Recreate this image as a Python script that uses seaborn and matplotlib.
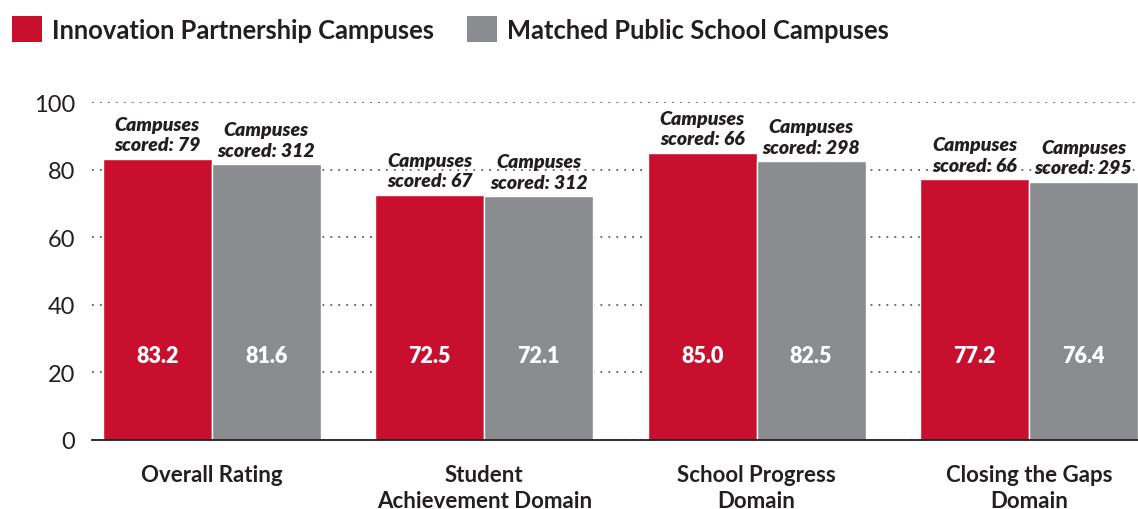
""" Campus ratings: Innovation Partnership vs matched public schools """

import matplotlib.pyplot as plt
import pandas as pd
import seaborn as sns
from matplotlib.patches import Patch


# Data
domains = ["Overall Rating", "Student\nAchievement Domain",
           "School Progress\nDomain", "Closing the Gaps\nDomain"]
groups = ["Innovation Partnership Campuses", "Matched Public School Campuses"]
innovation_scores = [83.2, 72.5, 85.0, 77.2]
matched_scores = [81.6, 72.1, 82.5, 76.4]
innovation_counts = [79, 67, 66, 66]
matched_counts = [312, 312, 298, 295]

colors = ["#C8102E", "#8A8C8F"]
text_color = "#231F20"

df = pd.DataFrame({
    "domain": domains * 2,
    "group": [groups[0]] * 4 + [groups[1]] * 4,
    "score": innovation_scores + matched_scores,
    "count": innovation_counts + matched_counts,
})

sns.set_style("white")
plt.rcParams["font.family"] = ["Lato", "DejaVu Sans"]

fig = plt.figure(figsize=(11.38, 5.10), dpi=100)
ax = fig.add_axes([0.0808, 0.1353, 0.9192, 0.6627])

sns.barplot(data=df, x="domain", y="score", hue="group", palette=colors,
            width=0.8, saturation=1, ax=ax, legend=False, zorder=2)

ax.set_ylim(0, 100)
ax.set_xlim(-0.44, 3.4)
ax.set_yticks(range(0, 101, 20))
ax.set_xlabel("")
ax.set_ylabel("")

# dotted gridlines
ax.yaxis.grid(True, linestyle=(0, (1.2, 4)), color="#444444", linewidth=1.1)
ax.set_axisbelow(True)
for side in ["left", "right", "top"]:
    ax.spines[side].set_visible(False)
ax.spines["bottom"].set_color(text_color)
ax.spines["bottom"].set_linewidth(1.3)

ax.tick_params(axis="y", length=0, pad=12, labelsize=17, labelcolor=text_color)
ax.tick_params(axis="x", length=7, width=1.1, color=text_color, pad=10,
               labelsize=16, labelcolor=text_color)
for label in ax.get_xticklabels():
    label.set_fontweight("bold")
    label.set_linespacing(1.3)

# labels on and above bars
counts = [innovation_counts, matched_counts]
scores = [innovation_scores, matched_scores]
for container, cnt, scr in zip(ax.containers, counts, scores):
    for bar, c, s in zip(container, cnt, scr):
        x = bar.get_x() + bar.get_width() / 2
        ax.text(x, 25, f"{s:.1f}", ha="center", va="center", color="white",
                fontsize=15.5, fontweight="heavy")
        ax.annotate(f"Campuses\nscored: {c}", (x, bar.get_height()),
                    xytext=(0, 4), textcoords="offset points",
                    ha="center", va="bottom", fontsize=14,
                    fontweight="heavy", fontstyle="italic", color=text_color,
                    linespacing=1.25, annotation_clip=False)

# legend
handles = [Patch(facecolor=c, edgecolor="none") for c in colors]
fig.legend(handles, groups, loc="upper left", bbox_to_anchor=(0.0105, 0.966),
           ncol=2, frameon=False, borderpad=0, borderaxespad=0,
           handlelength=1.17, handleheight=1.17,
           handletextpad=0.4, columnspacing=1.3,
           prop={"size": 18.4, "weight": "bold"}, labelcolor=text_color)

fig.savefig("out.png", dpi=100)
